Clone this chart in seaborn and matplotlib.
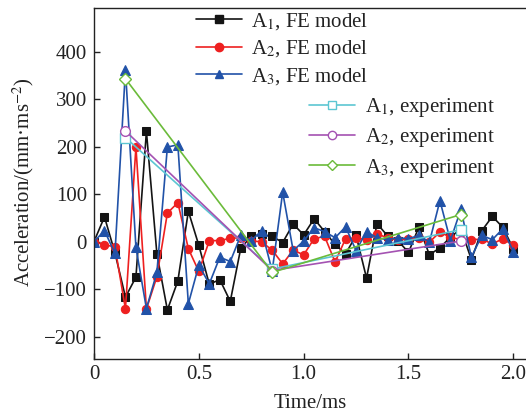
import numpy as np
import pandas as pd
import matplotlib
matplotlib.use("Agg")
import matplotlib.pyplot as plt
import seaborn as sns
from matplotlib.lines import Line2D

# ---------------- data ----------------
time_fe = [0.00, 0.05, 0.10, 0.15, 0.20, 0.25, 0.30, 0.35, 0.40, 0.45,
           0.50, 0.55, 0.60, 0.65, 0.70, 0.75, 0.80, 0.85, 0.90, 0.95,
           1.00, 1.05, 1.10, 1.15, 1.20, 1.25, 1.30, 1.35, 1.40, 1.45,
           1.50, 1.55, 1.60, 1.65, 1.70, 1.75, 1.80, 1.85, 1.90, 1.95, 2.00]

a1_fe = [0, 52, -24, -117, -75, 232, -26, -144, -83, 64,
         -8, -90, -80, -126, -14, 11, 15, 11, -2, 37,
         14, 48, 21, -6, -26, 13, -77, 38, 12, 2,
         -23, 31, -28, -13, 9, 27, -38, 23, 53, 30, -15]

a2_fe = [0, -7, -11, -142, 199, -142, -74, 60, 82, -15,
         -63, 2, 2, 7, 8, 2, -1, -18, -47, -18,
         -28, 6, 11, -43, 6, 8, 4, 16, 8, 4,
         5, 8, -1, 20, 9, 4, 4, 5, -5, 6, -8]

a3_fe = [0, 23, -25, 362, -12, -141, -65, 199, 204, -131,
         -50, -89, -33, -42, 13, 2, 23, -62, 104, -19,
         1, 29, 21, 8, 31, -19, 21, 8, 4, 8,
         6, 13, -1, 86, 2, 68, -33, 13, 4, 27, -21]

time_exp = [0.15, 0.85, 1.75]
a1_exp = [219, -58, 25]
a2_exp = [233, -61, 1]
a3_exp = [343, -65, 57]

x_ticks = [0, 0.5, 1.0, 1.5, 2.0]
x_tick_labels = ["0", "0.5", "1.0", "1.5", "2.0"]
y_ticks = [-200, -100, 0, 100, 200, 300, 400]

fe_labels = ["A$_1$, FE model", "A$_2$, FE model", "A$_3$, FE model"]
exp_labels = ["A$_1$, experiment", "A$_2$, experiment", "A$_3$, experiment"]

# ---------------- style ----------------
sns.set_theme(style="ticks")
plt.rcParams["font.family"] = ["Liberation Serif", "DejaVu Serif"]
plt.rcParams["mathtext.fontset"] = "stix"
plt.rcParams["axes.unicode_minus"] = True

W, H = 526, 416
fig = plt.figure(figsize=(W / 100, H / 100), dpi=100)
x0_px, x2_px = 94.0, 513.3
px_per_ms = (x2_px - x0_px) / 2.0
xmax = 2.1
left = x0_px / W
width = xmax * px_per_ms / W
top_px, bot_px = 8.0, 359.3
ax = fig.add_axes([left, 1 - bot_px / H, width, (bot_px - top_px) / H])

fe_colors = ["#141414", "#ee2020", "#2152a8"]
fe_markers = ["s", "o", "^"]
exp_colors = ["#5cc6d2", "#a452b2", "#6bbb3a"]
exp_markers = ["s", "o", "D"]

fe_series = [a1_fe, a2_fe, a3_fe]
exp_series = [a1_exp, a2_exp, a3_exp]

for vals, c, m in zip(fe_series, fe_colors, fe_markers):
    df = pd.DataFrame({"t": time_fe, "v": vals})
    sns.lineplot(data=df, x="t", y="v", ax=ax, color=c, marker=m,
                 markersize=6 if m != "^" else 7, markeredgecolor=c,
                 markerfacecolor=c, linewidth=1.2, legend=False)

for vals, c, m in zip(exp_series, exp_colors, exp_markers):
    df = pd.DataFrame({"t": time_exp, "v": vals})
    sns.lineplot(data=df, x="t", y="v", ax=ax, color=c, marker=m,
                 markersize=7 if m != "D" else 6, markeredgecolor=c,
                 markerfacecolor="white", markeredgewidth=1.0,
                 linewidth=1.2, legend=False)

ax.set_xlim(0, xmax)
ax.set_ylim(-248, 492)
ax.set_xticks(x_ticks)
ax.set_xticklabels(x_tick_labels)
ax.set_yticks(y_ticks)
ax.tick_params(direction="in", length=4, width=1.0, labelsize=15,
               colors="#222222", top=False, right=False)
ax.tick_params(axis="y", pad=5)
ax.tick_params(axis="x", pad=4)
for s in ax.spines.values():
    s.set_color("#222222")
    s.set_linewidth(1.0)
ax.set_xlabel("")
ax.set_ylabel("")

fig.text(23 / W, 1 - 182 / H, "Acceleration/(mm·ms$^{-2}$)", rotation=90,
         ha="center", va="center", fontsize=15, color="#222222")
fig.text(310 / W, 1 - 404 / H, "Time/ms", ha="center", va="center",
         fontsize=15, color="#222222")

# ---------------- legends ----------------
fe_handles = [Line2D([], [], color=c, marker=m, markersize=6, linewidth=1.2,
                     markerfacecolor=c, markeredgecolor=c)
              for c, m in zip(fe_colors, fe_markers)]
exp_handles = [Line2D([], [], color=c, marker=m, markersize=6 if m != "D" else 5.5,
                      linewidth=1.2, markerfacecolor="white", markeredgecolor=c)
               for c, m in zip(exp_colors, exp_markers)]

leg1 = fig.legend(fe_handles, fe_labels, loc="upper left",
                  bbox_to_anchor=(196 / W, 1 - 11 / H), frameon=False,
                  fontsize=15, handlelength=2.2, handletextpad=0.45,
                  labelspacing=0.31, borderpad=0, borderaxespad=0)
leg2 = fig.legend(exp_handles, exp_labels, loc="upper left",
                  bbox_to_anchor=(309 / W, 1 - 96 / H), frameon=False,
                  fontsize=15, handlelength=2.2, handletextpad=0.5,
                  labelspacing=0.35, borderpad=0, borderaxespad=0)
for leg in (leg1, leg2):
    for t in leg.get_texts():
        t.set_color("#222222")

fig.savefig("out.png", dpi=100)
